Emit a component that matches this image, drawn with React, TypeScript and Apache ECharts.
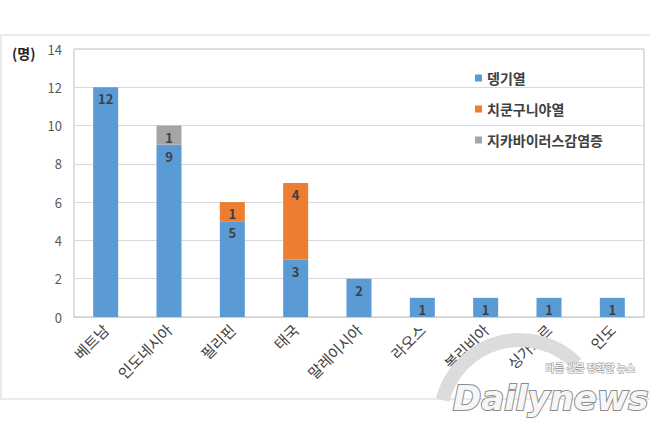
import React, { useEffect, useRef } from "react";
import * as echarts from "echarts";

const categories = ["베트남", "인도네시아", "필리핀", "태국", "말레이시아", "라오스", "볼리비아", "싱가포르", "인도"];
const dengue = [12, 9, 5, 3, 2, 1, 1, 1, 1];
const chikungunya = [null, null, 1, 4, null, null, null, null, null];
const zika = [null, 1, null, null, null, null, null, null, null];
const seriesNames = ["뎅기열", "치쿤구니야열", "지카바이러스감염증"];
const yTicks = { min: 0, max: 14, interval: 2 };

const FONT = "'Noto Sans CJK KR', 'Noto Sans', sans-serif";

export default function App() {
  const ref = useRef<HTMLDivElement>(null);
  useEffect(() => {
    document.body.style.margin = "0";
    const chart = echarts.init(ref.current!, null, { renderer: "svg" });
    const label = {
      show: true,
      position: "insideTop" as const,
      distance: 5,
      color: "#404040",
      fontSize: 13,
      fontWeight: "bold" as const,
      fontFamily: FONT,
    };
    chart.setOption({
      animation: false,
      backgroundColor: "#ffffff",
      textStyle: { fontFamily: FONT },
      grid: {
        left: 74,
        top: 49,
        right: 6,
        bottom: 116,
        show: true,
        borderColor: "#bfbfbf",
        borderWidth: 1,
        containLabel: false,
      },
      legend: {
        orient: "vertical",
        left: 470,
        top: 66,
        itemGap: 17,
        itemWidth: 7,
        itemHeight: 7,
        icon: "rect",
        data: seriesNames,
        textStyle: { fontSize: 14, color: "#404040", fontWeight: "bold", fontFamily: FONT },
      },
      xAxis: {
        type: "category",
        data: categories,
        axisLine: { show: true, lineStyle: { color: "#d0d0d0" } },
        axisTick: { show: false },
        axisLabel: {
          rotate: 45,
          interval: 0,
          margin: 10,
          fontSize: 15,
          color: "#404040",
          fontFamily: FONT,
        },
      },
      yAxis: {
        type: "value",
        min: yTicks.min,
        max: yTicks.max,
        interval: yTicks.interval,
        axisLine: { show: false },
        axisTick: { show: false },
        splitLine: { lineStyle: { color: "#d9d9d9" } },
        axisLabel: { fontSize: 13, color: "#595959", margin: 12, fontFamily: FONT },
      },
      graphic: [
        {
          type: "rect",
          shape: { x: 1, y: 35, width: 660, height: 364 },
          style: { fill: "none", stroke: "#e3e3e3", lineWidth: 1.5 },
          silent: true,
          z: -1,
        },
        {
          type: "text",
          left: 12,
          top: 46,
          style: { text: "(명)", fontSize: 14, fontWeight: "bold", fill: "#262626", fontFamily: FONT },
        },
        {
          type: "arc",
          shape: { cx: 520, cy: 420, r: 80, startAngle: Math.PI * 1.08, endAngle: Math.PI * 1.75 },
          style: { stroke: "#dcdcdc", lineWidth: 14, fill: "none" },
          silent: true,
          z: 100,
        },
        {
          type: "text",
          left: 545,
          top: 362,
          style: { text: "바른 신문 정확한 뉴스", fontSize: 10, fontWeight: "bold", fill: "#f4f4f4", stroke: "#9a9a9a", lineWidth: 1, fontFamily: FONT },
          z: 101,
        },
        {
          type: "text",
          left: 452,
          top: 380,
          style: {
            text: "Dailynews",
            fontSize: 34,
            fontStyle: "italic",
            fontWeight: "bold",
            fill: "#f6f6f6",
            stroke: "#8c8c8c",
            lineWidth: 2,
            fontFamily: "'DejaVu Sans', sans-serif",
          },
          z: 101,
        },
      ],
      series: [
        {
          name: seriesNames[0],
          type: "bar",
          stack: "total",
          data: dengue,
          barWidth: 25,
          itemStyle: { color: "#5b9bd5" },
          label,
        },
        {
          name: seriesNames[1],
          type: "bar",
          stack: "total",
          data: chikungunya,
          barWidth: 25,
          itemStyle: { color: "#ed7d31" },
          label,
        },
        {
          name: seriesNames[2],
          type: "bar",
          stack: "total",
          data: zika,
          barWidth: 25,
          itemStyle: { color: "#a5a5a5" },
          label,
        },
      ],
    });
    return () => chart.dispose();
  }, []);
  return <div ref={ref} style={{ width: 650, height: 433 }} />;
}
